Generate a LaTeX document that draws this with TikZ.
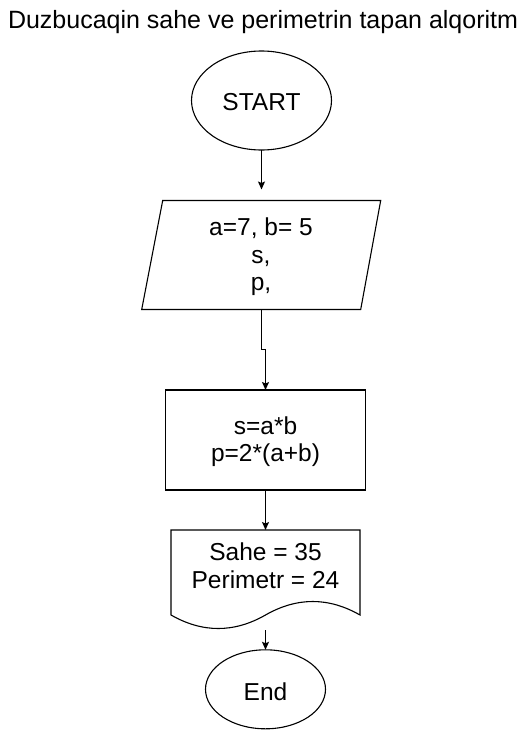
\documentclass[tikz,border=0pt]{standalone}
\usepackage{fontspec}
\setmainfont{Liberation Sans}
\usetikzlibrary{shapes.geometric,arrows.meta,calc}
\begin{document}
\begin{tikzpicture}[x=1pt,y=-1pt, line width=1.1pt,
  every node/.style={outer sep=0pt},
  box/.style={draw=none, inner sep=0pt},
  txt/.style={font=\fontsize{24.5}{27.5}\selectfont, anchor=base, inner sep=0pt},
  arr/.style={-{Stealth[length=8pt,width=7pt,inset=1.5pt]}}]
\useasboundingbox[fill=white] (0,0) rectangle (531,731);
% title
\node[font=\fontsize{25}{30}\selectfont, anchor=base, inner sep=0pt] (title) at (263,28.3) {Duzbucaqin sahe ve perimetrin tapan alqoritm};
% start
\node[draw, ellipse, minimum width=140pt, minimum height=99pt, inner sep=0pt] (start) at (261.5,100.5) {};
\node[txt] (starttxt) at (261.5,110) {START};
% input parallelogram
\node[box, minimum width=239pt, minimum height=109pt] (para) at (261.2,255) {};
\draw ($(para.north west)+(21,0)$) -- (para.north east) -- ($(para.south east)+(-20,0)$) -- (para.south west) -- cycle;
\node[txt] (p1) at (261,235) {a=7, b= 5};
\node[txt] (p2) at (261,263) {s,};
\node[txt] (p3) at (261,290) {p,};
% process
\node[draw, minimum width=200pt, minimum height=100pt, inner sep=0pt] (proc) at (265.5,440) {};
\node[txt] (r1) at (265.5,434.3) {s=a*b};
\node[txt] (r2) at (265.5,461.7) {p=2*(a+b)};
% document
\node[box, minimum width=189pt, minimum height=100pt] (doc) at (265.5,580) {};
\draw (doc.north west) -- (doc.north east) -- ($(doc.south east)+(0,-15)$)
  .. controls ($(doc.south east)+(-31.5,-33)$) and ($(doc.south)+(31.5,-33)$) .. ($(doc.south)+(0,-15)$)
  .. controls ($(doc.south)+(-31.5,3)$) and ($(doc.south west)+(31.5,3)$) .. ($(doc.south west)+(0,-15)$)
  -- cycle;
\node[txt] (d1) at (265.5,560) {Sahe = 35};
\node[txt] (d2) at (265.5,588.3) {Perimetr = 24};
% end
\node[draw, ellipse, minimum width=120pt, minimum height=79pt, inner sep=0pt] (stop) at (265.5,689.3) {};
\node[txt] (stoptxt) at (265.5,700) {End};
% connectors
\draw[arr, shorten >=11pt] (start.south) -- (start.south |- para.north);
\draw[arr] (para.south) -- ++(0,40) -| (proc.north);
\draw[arr] (proc.south) -- (doc.north);
\draw[arr] (doc.south) -- (stop.north);
\end{tikzpicture}
\end{document}
